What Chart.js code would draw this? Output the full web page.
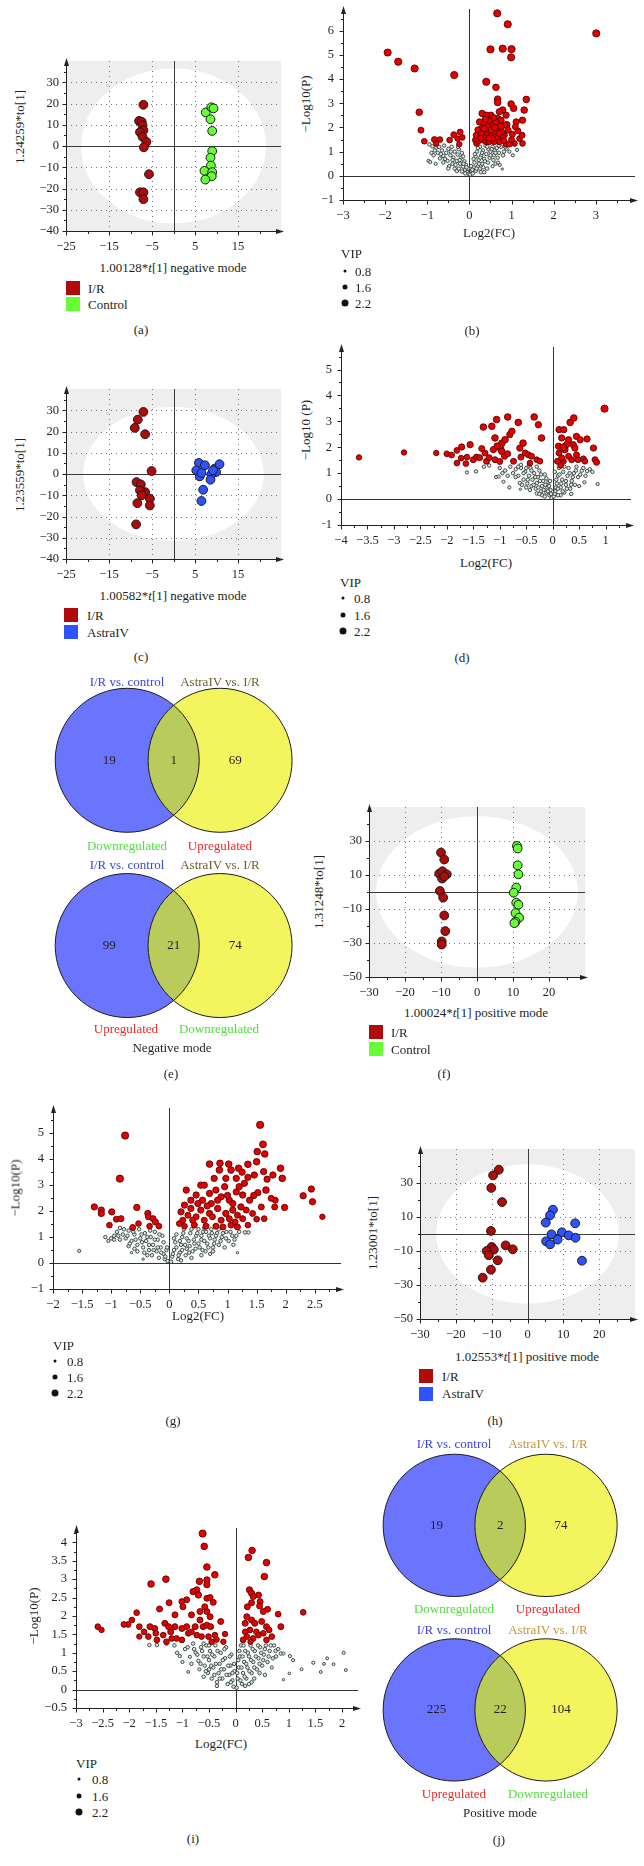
<!DOCTYPE html>
<html>
<head>
<meta charset="utf-8">
<script src="https://cdn.jsdelivr.net/npm/chart.js@4.4.1/dist/chart.umd.min.js"></script>
<style>
  body { margin:0; width:644px; height:1866px; position:relative; background:#fff; overflow:hidden;
         font-family:"Liberation Serif","DejaVu Serif",serif; color:#231f20; }
  canvas { position:absolute; }
  .t, .l, .r { position:absolute; white-space:nowrap; font-size:13px; line-height:1; }
  .t { transform:translate(-50%,-50%); }
  .l { transform:translateY(-50%); }
  .r { transform:translate(-50%,-50%) rotate(-90deg); }
  .sq { position:absolute; width:14px; height:14px; }
  .dot { position:absolute; border-radius:50%; background:#111; transform:translate(-50%,-50%); }
</style>
</head>
<body>
<script>
// ---------- PCA score plots ----------
const aIR = [[-7.0,19.4],[-8.0,11.8],[-7.4,11.4],[-7.2,9.8],[-7.0,7.4],[-7.8,6.5],[-7.2,4.3],[-6.3,1.9],[-6.9,-0.6],[-5.7,-13.3],[-7.8,-21.8],[-7.0,-21.8],[-7.0,-25]];
const aControl = [[7.5,15.8],[8.8,18.2],[9.3,17.7],[8.6,12.6],[9.0,7.1],[9.0,-2.4],[8.6,-5.5],[8.7,-9.2],[7.2,-11.7],[9.0,-12.3],[8.9,-14.2],[7.4,-15.8]];
const cIR = [[-7.0,29.2],[-8.3,25.6],[-9.0,21.7],[-6.6,18.7],[-5.1,1.4],[-8.6,-3.8],[-7.6,-4.9],[-6.6,-8.5],[-7.8,-7.7],[-7.4,-10],[-8.4,-13.7],[-5.5,-11.6],[-5.5,-14.8],[-8.7,-23.7]];
const cAstra = [[5.9,5.2],[5.3,1.7],[6.1,-1.1],[6.5,0.5],[7.3,4.1],[9.6,2.5],[10.7,4.6],[9.9,0.9],[8.8,-0.2],[8.6,-2.7],[6.9,-7.4],[6.5,-12.7],[9.2,1.7]];
const fIR = [[-10.0,23.2],[-9.1,19.1],[-10.5,10.8],[-9.6,12.2],[-8.4,10.4],[-9.7,7.9],[-9.1,9.2],[-10.3,0.6],[-9.4,-3.3],[-9.1,-13.8],[-8.8,-23],[-9.8,-29.1],[-9.8,-30.9]];
const fControl = [[11.1,27.1],[11.3,25.6],[11.3,15.7],[11.5,10.4],[10.9,2.6],[10.2,-0.4],[10.9,-6.3],[11.5,-7.5],[10.7,-12.4],[11.7,-15.1],[10.7,-17.5],[10.4,-18.3]];
const hIR = [[-8.0,37.8],[-9.6,34.5],[-10.1,27.1],[-7.1,18.8],[-10.2,1.8],[-10.0,-7.6],[-9.4,-9.2],[-11.4,-10],[-10.8,-12.5],[-6.1,-6.7],[-4.1,-9.0],[-8.3,-15.5],[-10.2,-21],[-12.5,-25.7]];
const hAstra = [[7.1,14.3],[6.3,11],[5.1,6.7],[13.3,6.3],[9.6,1.0],[11.5,-0.8],[6.7,-0.2],[13.4,-2.2],[8.4,-3.3],[5.2,-4.3],[6.3,-6.1],[15.2,-15.7]];

// Hotelling ellipse radii (x, y)
const aEllipse = [21.5, 36.5], cEllipse = [21, 31.5], fEllipse = [28, 44.6], hEllipse = [25.5, 41];

// tick values
const negTicksX = [-25,-15,-5,5,15], negMinorX = [-20,-10,0,10,20];
const negTicksY = [-40,-30,-20,-10,0,10,20,30], negMinorY = [-35,-25,-15,-5,5,15,25,35];
const negGridX = [-15,-5,5,15], negGridY = [-30,-20,-10,10,20,30];
const posTicksX = [-30,-20,-10,0,10,20], posMinorX = [-25,-15,-5,5,15,25];
const posTicksY = [-50,-30,-10,10,30], posMinorY = [-40,-20,0,20,40];
const posGridX = [-20,-10,10,20], posGridY = [-30,-10,10,30];

// ---------- volcano plots: [log2FC, -log10P, VIP] ----------
const bRed = [[0.66,6.72,2.2],[0.91,6.27,2.2],[3.01,5.89,2.2],[0.5,5.23,2.2],[0.79,5.26,2.2],[1.0,5.24,2.2],[0.99,4.9,2.2],[-1.94,5.1,2.2],[-1.69,4.72,2.2],[-1.3,4.44,2.2],[-0.36,4.17,2.2],[0.4,3.89,2.2],[0.63,3.66,2.0],[1.35,3.16,2.0],[0.67,3.17,2.0],[0.67,3.03,2.0],[0.99,2.97,2.0],[1.05,2.79,2.0],[1.3,2.72,2.0],[0.79,2.72,2.0],[-1.19,2.63,2.0],[-1.15,1.89,1.8],[-1.07,1.43,1.7],[-0.83,1.5,1.8],[-0.7,1.5,1.7],[-0.79,1.34,1.6],[-0.47,1.48,1.7],[-0.37,1.7,1.8],[-0.28,1.54,1.7],[-0.22,1.81,1.8],[-0.17,1.59,1.7],[-0.24,1.31,1.6],
  [1.26,1.34,1.7],[1.07,1.34,1.7],[1.19,1.54,1.7],[1.25,1.68,1.8],[1.26,2.3,1.9],[1.11,2.23,1.9],[1.15,1.86,1.8],[1.09,2.03,1.8],[0.87,2.51,1.9],[0.89,2.12,1.9],[0.92,1.89,1.8],[0.83,1.68,1.8],[0.79,1.59,1.8],[0.87,1.31,1.7],[0.95,1.31,1.7],
  [0.3,2.58,1.9],[0.24,2.23,1.9],[0.28,1.96,1.8],[0.24,1.68,1.8],[0.14,1.48,1.7],[0.17,1.34,1.7],[0.16,1.68,1.8],[0.32,1.48,1.8],[0.4,1.41,1.8],[0.47,1.41,1.8],[0.51,1.68,1.8],[0.43,1.82,1.8],[0.47,2.3,1.9],[0.51,2.51,1.9],[0.55,2.1,1.9],[0.63,1.96,1.9],[0.67,2.37,1.9],[0.71,2.65,1.9],[0.75,2.3,1.9],[0.67,1.61,1.8],[0.71,1.41,1.8],[0.59,1.41,1.8],[0.4,2.51,1.9],[0.36,2.17,1.9],[0.43,2.03,1.9],[0.59,1.82,1.8],[0.77,1.82,1.8],[0.63,2.23,1.9],[0.83,2.1,1.9],[0.4,1.68,1.8],[0.2,1.9,1.8],[0.55,1.55,1.8],[0.35,1.6,1.8],
  [0.22,1.45,1.8],[0.28,1.75,1.8],[0.35,1.95,1.9],[0.46,1.55,1.8],[0.52,1.9,1.9],[0.6,2.0,1.9],[0.7,1.75,1.8],[0.75,2.05,1.9],[0.82,1.45,1.8],[0.58,2.4,1.9],[0.38,2.35,1.9],[0.27,1.55,1.8],[1.0,1.5,1.8],[1.02,1.72,1.8]];
const bGrey = [[-0.95,1.3,1],[-0.88,1.22,1],[-0.8,1.15,1],[-0.72,1.2,1],[-0.65,1.05,1],[-0.6,1.25,1],[-0.55,0.95,1],[-0.5,1.12,1],[-0.45,0.85,1],[-0.42,1.2,1],[-0.38,0.75,1],[-0.35,1.0,1],[-0.3,0.62,1],[-0.28,0.88,1],[-0.25,1.1,1],[-0.22,0.5,1],[-0.2,0.75,1],[-0.18,0.95,1],[-0.15,0.38,1],[-0.12,0.6,1],[-0.1,0.25,1],[-0.08,0.45,1],[-0.05,0.15,1],[-0.03,0.3,1],[-0.02,0.08,1],
  [-0.97,0.62,0.9],[-0.93,0.57,0.9],[-0.8,0.5,0.9],[-0.7,0.72,1],[-0.62,0.55,1],[-0.52,0.62,1],[-0.48,0.4,1],[-0.4,0.5,1],[-0.35,0.3,1],[-0.3,0.2,1],[-0.25,0.3,1],[-0.18,0.18,1],[-0.75,0.95,1],[-0.85,0.85,1],[-0.62,0.82,1],
  [0.02,0.05,1],[0.05,0.2,1],[0.08,0.1,1],[0.1,0.35,1],[0.12,0.55,1],[0.15,0.2,1],[0.15,0.8,1],[0.18,1.0,1],[0.2,0.4,1],[0.22,0.65,1],[0.25,1.2,1],[0.27,0.15,1],[0.28,0.85,1],[0.3,0.5,1],[0.32,1.05,1],[0.35,0.7,1],[0.38,1.25,1],[0.4,0.9,1],[0.42,0.3,1],[0.45,1.1,1],[0.48,0.75,1],[0.5,1.0,1],[0.55,1.2,1],[0.58,0.85,1],[0.6,1.05,1],[0.62,0.5,0.9],[0.65,1.15,1],[0.7,0.95,1],[0.72,0.45,0.9],[0.75,1.2,1],[0.78,0.28,0.6],[0.82,1.0,1],[0.88,1.12,1],[0.95,1.0,0.9],[1.03,0.85,0.9],[1.13,1.07,0.9],[0.35,0.15,1],[0.25,0.3,1],
  [-0.9,0.95,1],[-0.82,1.05,1],[-0.68,0.9,1],[-0.58,0.7,1],[-0.5,0.3,1],[-0.44,1.0,1],[-0.4,0.65,1],[-0.33,0.45,1],[-0.27,1.2,1],[-0.23,0.65,1],[-0.15,0.8,1],[-0.14,0.5,1],[-0.1,0.1,1],[-0.07,0.35,1],[0.04,0.4,1],[0.07,0.25,1],[0.1,0.7,1],[0.13,0.9,1],[0.17,0.3,1],[0.2,1.15,1],[0.23,0.5,1],[0.26,0.75,1],[0.3,0.95,1],[0.33,0.35,1],[0.37,0.6,1],[0.42,1.2,1],[0.44,0.55,1],[0.5,0.85,1],[0.53,1.1,1],[0.57,0.65,1],[0.62,0.95,1],[0.67,0.75,1],[0.7,1.25,1],[0.8,0.85,1],[0.85,1.2,1],[0.55,0.4,0.9],[0.68,0.55,0.9]];
const dRed = [[-3.66,1.61,1.6],[-2.81,1.8,1.6],[-2.2,1.78,1.6],[-2.0,1.75,1.7],[-1.91,1.7,1.7],[-1.81,1.88,1.7],[-1.72,2.01,1.9],[-1.56,2.1,1.9],[-1.81,1.39,1.7],[-1.73,1.58,1.7],[-1.62,1.62,1.7],[-1.64,1.37,1.7],[-1.5,1.52,1.8],[-1.44,1.62,1.8],[-1.34,1.95,1.8],[-1.31,2.78,2.0],[-1.28,1.78,1.8],[-1.25,1.46,1.8],[-1.15,2.81,2.0],[-1.06,3.07,2.0],[-1.09,2.36,2.0],[-1.12,1.91,1.9],[-1.09,1.52,1.8],[-0.96,2.16,2.0],[-0.99,1.97,2.0],[-0.96,1.84,2.0],[-0.91,1.65,1.8],[-0.9,2.29,2.0],[-0.85,3.17,2.0],[-0.81,2.49,1.9],[-0.77,2.62,1.9],[-0.74,1.46,1.8],[-0.65,2.96,2.0],[-0.62,1.97,1.9],[-0.56,2.16,2.0],[-0.52,1.78,1.8],[-0.46,1.71,1.8],[-0.43,1.39,1.7],[-0.4,1.65,1.8],[-0.35,3.17,2.0],[-0.27,2.87,1.9],[-0.3,1.52,1.7],[-0.24,1.46,1.7],[-0.21,2.36,2.0],[-1.38,1.6,1.8],[-1.2,1.6,1.8],[-1.0,1.45,1.8],[-0.85,1.75,1.8],[-0.6,1.62,1.8],[-1.05,2.05,1.9],
  [0.12,2.68,1.9],[0.21,2.68,1.9],[0.33,2.96,2.0],[0.4,3.13,2.0],[0.98,3.49,2.2],[0.17,2.36,1.9],[0.3,2.29,1.9],[0.39,2.1,1.9],[0.45,2.42,1.9],[0.52,2.29,1.9],[0.65,2.32,1.9],[0.77,1.97,1.9],[0.8,1.52,1.8],[0.83,1.42,1.8],[0.11,2.04,1.9],[0.12,1.78,1.8],[0.09,1.46,1.8],[0.2,1.46,1.8],[0.23,1.91,2.0],[0.3,1.65,1.8],[0.36,1.52,1.8],[0.42,1.97,1.9],[0.48,1.52,1.8],[0.58,1.55,1.8],[0.61,1.46,1.7],[0.17,1.59,1.8],[0.26,2.1,1.9],[0.45,1.71,1.8],[0.2,2.0,2.1],[0.15,1.3,1.7]];
const dGrey = [[-1.62,1.03,0.9],[-1.45,1.07,1],[-1.3,1.25,1],[-1.2,1.3,1],[-1.07,0.85,0.9],[-1.02,0.87,0.9],[-0.93,0.67,0.9],[-0.82,0.45,0.9],[-0.61,0.38,0.6],[-1.0,1.2,1],[-0.9,1.1,1],[-0.8,1.25,1],[-0.75,1.0,1],[-0.7,1.15,1],[-0.65,0.9,1],[-0.6,1.2,1],[-0.55,0.75,1],[-0.52,1.05,1],[-0.48,0.6,1],[-0.45,0.9,1],[-0.42,1.2,1],[-0.4,0.5,1],[-0.38,0.75,1],[-0.35,1.0,1],[-0.32,0.4,1],[-0.3,0.62,1],[-0.28,0.85,1],[-0.25,1.1,1],[-0.22,0.3,1],[-0.2,0.5,1],[-0.18,0.7,1],[-0.15,0.95,1],[-0.12,0.25,1],[-0.1,0.45,1],[-0.08,0.65,1],[-0.06,0.15,1],[-0.04,0.35,1],[-0.02,0.05,1],[-0.3,0.22,1],[-0.2,0.15,1],[-0.5,0.45,1],[-0.62,0.62,1],[-0.85,0.9,1],[-0.95,1.0,1],[-0.45,1.3,1],[-0.6,1.32,1],
  [0.02,0.1,1],[0.05,0.3,1],[0.08,0.6,1],[0.1,0.9,1],[0.12,1.2,1],[0.15,0.45,1],[0.18,0.75,1],[0.2,1.05,1],[0.22,0.25,1],[0.25,0.55,1],[0.28,0.9,1],[0.3,1.2,1],[0.33,0.4,1],[0.36,0.7,1],[0.4,1.0,1],[0.42,0.55,1],[0.45,1.25,1],[0.48,0.85,1],[0.5,0.5,0.9],[0.55,1.1,1],[0.6,0.65,0.9],[0.62,0.9,1],[0.65,1.08,1],[0.7,1.15,1],[0.85,0.58,0.9],[0.75,1.05,1],[0.35,0.2,1],[0.15,0.15,1],[0.06,0.45,1],
  [-0.7,0.85,1],[-0.65,1.25,1],[-0.58,0.55,1],[-0.55,1.0,1],[-0.5,1.2,1],[-0.47,0.75,1],[-0.43,0.35,1],[-0.4,1.1,1],[-0.36,0.55,1],[-0.33,0.85,1],[-0.3,1.25,1],[-0.27,0.45,1],[-0.24,0.7,1],[-0.22,0.95,1],[-0.17,0.35,1],[-0.14,0.55,1],[-0.12,0.8,1],[-0.09,0.3,1],[-0.07,0.5,1],[-0.05,0.7,1],[-0.03,0.2,1],[-0.25,0.2,1],[-0.15,0.1,1],[0.04,0.2,1],[0.07,0.75,1],[0.1,0.4,1],[0.13,0.95,1],[0.16,0.6,1],[0.19,0.3,1],[0.22,1.25,1],[0.25,0.7,1],[0.27,0.4,1],[0.32,1.0,1],[0.35,0.55,1],[0.38,0.85,1],[0.44,1.1,1],[0.52,0.95,1],[0.58,1.2,1],[0.04,1.05,1],[0.1,0.15,1]];
const gRed = [[-0.76,4.91,2.2],[-0.85,3.25,2.2],[-1.29,2.16,1.9],[-1.17,2.04,1.9],[-1.17,1.91,1.9],[-0.99,1.97,1.9],[-1.03,1.46,1.7],[-0.91,1.69,1.8],[-0.83,1.71,1.8],[-0.63,1.37,1.8],[-0.56,2.14,1.9],[-0.53,1.52,1.7],[-0.37,1.91,1.9],[-0.36,1.78,1.8],[-0.28,1.71,1.8],[-0.24,1.58,1.8],[-0.18,1.42,1.7],[-0.34,1.42,1.7],
  [1.56,5.32,2.2],[1.61,4.57,2.1],[1.64,4.2,2.0],[1.51,4.29,2.0],[1.5,3.9,2.0],[1.02,3.81,2.0],[0.86,3.58,2.0],[0.69,3.81,2.0],[0.87,3.84,2.0],[1.06,3.58,2.0],[1.19,3.65,2.0],[1.35,3.8,2.0],[1.91,3.65,2.0],[1.94,3.26,2.0],[1.78,3.39,1.9],[1.62,3.52,1.9],[1.46,3.39,1.9],[1.68,3.23,1.9],[1.66,2.81,2.0],[2.44,2.85,1.9],[2.3,2.59,1.9],[2.46,2.36,1.9],[1.98,2.14,1.9],[1.81,2.16,1.8],[1.82,2.42,1.8],[1.75,2.49,1.8],[0.29,2.81,1.9],[0.54,3.0,1.9],[0.6,3.0,1.9],[0.77,3.26,1.9],[0.97,3.26,1.9],[1.15,3.26,1.9],[1.29,3.07,1.9],[1.52,2.71,1.9],[1.58,2.16,1.8],[1.63,1.71,1.7],[1.5,1.69,1.7],[1.35,1.46,1.7],[1.17,1.39,1.8],[1.06,1.46,1.8],[0.92,1.39,1.8],[0.8,1.42,1.8],[0.63,1.42,1.8],[0.43,1.46,1.8],[0.26,1.42,1.7],[0.17,1.52,1.7],[0.2,1.97,1.9],[0.26,2.23,1.9],[0.37,2.42,1.9],[0.46,2.62,1.9],[0.57,2.42,1.9],[0.69,2.68,1.9],[0.8,2.81,1.9],[0.89,2.55,1.9],[1.03,2.42,1.9],[1.15,2.74,1.9],[1.26,2.62,1.9],[1.38,2.42,1.9],[1.23,2.16,1.9],[1.09,2.04,1.9],[0.97,1.91,1.9],[0.83,2.1,1.9],[0.69,1.91,1.9],[0.54,2.04,1.9],[0.46,1.78,1.8],[0.32,1.84,1.8],[0.6,1.65,1.8],[0.74,1.78,1.8],[0.89,1.65,1.8],[1.03,1.71,1.8],[1.17,1.84,1.8],[1.32,2.04,1.8],[1.43,1.91,1.8],[1.26,1.71,1.8],[1.09,2.29,1.9],[0.95,2.94,1.9],[1.2,2.94,1.9],[0.49,2.29,1.9],[0.37,2.1,1.9],[0.72,2.29,1.9],[0.83,2.42,1.9],[1.13,1.58,1.8],[0.4,1.65,1.8],[0.23,1.65,1.8],[2.63,1.78,1.6],[1.45,2.6,1.9],[1.0,2.6,1.9],[0.65,2.2,1.9],[1.35,3.3,1.9],[1.25,3.5,1.9]];
const gGrey = [[-1.55,0.47,0.9],[-1.05,0.85,0.9],[-1.0,0.95,1],[-0.95,1.05,1],[-0.9,1.2,1],[-0.85,1.35,1],[-0.8,1.1,1],[-0.75,0.95,1],[-0.7,1.25,1],[-0.65,0.4,0.6],[-0.65,0.85,1],[-0.6,1.1,1],[-0.55,0.7,1],[-0.52,1.3,1],[-0.5,0.95,1],[-0.45,0.15,0.6],[-0.45,0.6,1],[-0.42,1.15,1],[-0.4,0.85,1],[-0.35,0.5,1],[-0.32,1.0,1],[-0.3,0.3,1],[-0.28,0.7,1],[-0.25,1.2,1],[-0.22,0.45,1],[-0.2,0.9,1],[-0.18,0.2,1],[-0.15,0.6,1],[-0.12,1.05,1],[-0.1,0.35,1],[-0.08,0.15,1],[-0.05,0.5,1],[-0.03,0.08,1],[-0.7,0.65,1],[-0.85,0.9,1],[-0.6,0.55,1],[-0.38,0.3,1],[-1.1,1.0,1],
  [0.03,0.05,1],[0.05,0.25,1],[0.08,0.5,1],[0.1,0.8,1],[0.12,1.1,1],[0.15,0.15,1],[0.18,0.4,1],[0.2,0.7,1],[0.22,1.0,1],[0.25,1.3,1],[0.28,0.3,1],[0.3,0.55,1],[0.33,0.85,1],[0.36,1.15,1],[0.4,0.45,1],[0.43,0.75,1],[0.46,1.05,1],[0.5,1.3,1],[0.52,0.6,1],[0.55,0.9,1],[0.58,1.2,1],[0.62,0.45,1],[0.65,0.75,1],[0.68,1.05,1],[0.72,1.3,1],[0.75,0.6,1],[0.78,0.9,1],[0.82,1.15,1],[0.85,0.7,1],[0.9,1.0,1],[0.95,0.6,1],[0.98,1.2,1],[1.02,0.85,1],[1.08,1.05,1],[1.12,0.9,1],[1.17,0.4,0.6],[1.2,1.2,1],[1.3,1.18,1],[1.36,1.18,1],[0.7,0.35,0.9],[0.38,0.2,1],[0.2,0.1,1],[0.6,1.35,1],
  [-0.95,0.9,1],[-0.88,1.05,1],[-0.78,1.3,1],[-0.72,1.05,1],[-0.68,0.75,1],[-0.62,1.2,1],[-0.58,0.9,1],[-0.55,0.45,1],[-0.48,1.1,1],[-0.47,0.8,1],[-0.43,0.4,1],[-0.38,1.0,1],[-0.35,0.7,1],[-0.33,1.25,1],[-0.27,0.5,1],[-0.25,0.9,1],[-0.2,0.6,1],[-0.17,1.1,1],[-0.14,0.4,1],[-0.1,0.8,1],[-0.07,0.25,1],[-0.04,0.6,1],[0.06,0.35,1],[0.08,0.95,1],[0.12,0.6,1],[0.16,0.3,1],[0.18,0.85,1],[0.22,0.5,1],[0.24,1.15,1],[0.27,0.7,1],[0.3,0.95,1],[0.34,0.4,1],[0.35,0.65,1],[0.38,1.3,1],[0.42,0.9,1],[0.45,0.55,1],[0.48,1.15,1],[0.5,0.75,1],[0.55,1.05,1],[0.57,0.5,1],[0.6,0.85,1],[0.63,1.2,1],[0.67,0.6,1],[0.7,0.95,1],[0.73,1.15,1],[0.77,0.75,1],[0.8,1.05,1],[0.85,1.3,1],[0.88,0.85,1],[0.92,1.15,1],[0.97,0.95,1],[1.05,1.2,1],[1.1,0.7,1],[1.15,1.05,1],[0.75,0.45,1],[0.55,0.3,1]];
const iRed = [[-0.62,4.24,2.2],[-0.59,3.89,2.0],[-0.54,3.33,2.0],[-0.39,3.12,2.0],[-1.59,2.87,2.0],[-1.31,3.0,2.0],[-0.68,2.94,2.0],[-0.54,2.98,1.9],[-0.54,2.85,1.9],[-0.73,2.71,1.9],[-0.8,2.66,1.9],[-0.7,2.57,1.9],[-0.92,2.44,1.8],[-1.01,2.39,1.8],[-1.25,2.36,1.8],[-1.43,2.19,1.8],[-0.99,2.25,1.8],[-0.54,2.48,1.8],[-0.48,2.5,1.8],[-0.42,2.37,1.8],[-1.14,2.03,1.8],[-0.83,2.03,1.8],[-0.67,2.12,1.8],[-0.58,2.25,1.8],[-0.54,2.12,1.8],[-0.48,1.98,1.8],[-0.28,1.85,1.8],[-1.86,2.09,1.7],[-1.95,1.89,1.7],[-2.02,1.77,1.7],[-2.1,1.77,1.7],[-2.59,1.71,1.7],[-2.52,1.62,1.6],[-1.81,1.71,1.7],[-1.72,1.57,1.7],[-1.64,1.44,1.7],[-1.81,1.44,1.6],[-1.61,1.71,1.8],[-1.52,1.66,1.8],[-1.5,1.53,1.7],[-1.36,1.48,1.7],[-1.33,1.8,1.8],[-1.26,1.71,1.8],[-1.22,1.57,1.8],[-1.14,1.71,1.8],[-1.11,1.39,1.7],[-1.01,1.66,1.8],[-0.92,1.71,1.8],[-0.89,1.53,1.7],[-0.83,1.57,1.7],[-0.76,1.71,1.8],[-0.67,1.89,1.8],[-0.61,1.71,1.8],[-0.54,1.75,1.8],[-0.47,1.71,1.8],[-0.73,1.48,1.7],[-0.64,1.44,1.7],[-0.51,1.44,1.7],[-0.39,1.48,1.7],[-0.2,1.51,1.6],[-0.23,1.3,1.6],[-0.36,1.36,1.7],[-0.45,1.3,1.7],[-1.01,1.35,1.7],[-1.2,1.39,1.7],[-1.48,1.35,1.7],[-1.3,1.3,1.7],
  [0.31,3.78,2.0],[0.24,3.59,2.0],[0.58,3.45,2.0],[0.54,3.07,2.0],[0.26,2.71,1.9],[0.3,2.62,1.9],[0.43,2.57,1.8],[0.33,2.53,1.8],[0.22,2.25,1.8],[0.3,2.36,1.8],[0.46,2.39,1.8],[0.45,2.27,1.8],[0.6,2.18,1.8],[0.52,2.12,1.8],[0.8,2.05,1.7],[1.27,2.1,1.7],[0.85,1.71,1.8],[0.21,1.98,1.8],[0.18,1.8,1.8],[0.3,1.89,1.8],[0.36,1.8,1.8],[0.49,1.85,1.8],[0.58,1.71,1.8],[0.63,1.62,1.7],[0.68,1.44,1.7],[0.52,1.53,1.7],[0.39,1.57,1.7],[0.27,1.62,1.7],[0.18,1.57,1.7],[0.21,1.44,1.7],[0.33,1.39,1.7],[0.43,1.48,1.7],[0.58,1.35,1.7],[0.28,1.3,1.6],[0.14,1.35,1.7]];
const iGrey = [[-1.62,1.21,1],[-1.48,1.21,1],[-1.3,1.25,1],[-1.15,1.2,1],[-1.05,0.91,0.9],[-1.0,0.75,0.9],[-0.89,0.48,0.8],[-0.86,0.89,0.9],[-0.95,1.1,1],[-0.8,1.25,1],[-0.75,1.0,1],[-0.7,0.78,1],[-0.68,0.55,0.9],[-0.65,1.15,1],[-0.6,0.9,1],[-0.58,0.65,1],[-0.55,1.2,1],[-0.52,0.45,1],[-0.5,0.8,1],[-0.48,1.05,1],[-0.45,0.3,1],[-0.42,0.6,1],[-0.4,0.9,1],[-0.38,1.2,1],[-0.35,0.2,1],[-0.32,0.45,1],[-0.3,0.7,1],[-0.28,1.0,1],[-0.25,0.3,1],[-0.22,0.55,1],[-0.2,0.85,1],[-0.18,1.15,1],[-0.15,0.15,1],[-0.12,0.4,1],[-0.1,0.65,1],[-0.08,0.95,1],[-0.06,0.25,1],[-0.04,0.08,1],[-0.02,0.5,1],[-0.6,0.35,1],[-0.5,0.55,1],[-0.35,0.1,1],
  [0.02,0.05,1],[0.04,0.3,1],[0.06,0.6,1],[0.08,0.9,1],[0.1,1.2,1],[0.12,0.15,1],[0.14,0.45,1],[0.16,0.75,1],[0.18,1.05,1],[0.2,0.3,1],[0.22,0.6,1],[0.25,0.9,1],[0.28,1.2,1],[0.3,0.45,1],[0.33,0.75,1],[0.36,1.05,1],[0.4,0.55,1],[0.43,0.85,1],[0.46,1.15,1],[0.5,0.65,1],[0.53,0.95,1],[0.57,1.2,1],[0.6,0.75,1],[0.64,1.05,1],[0.68,0.6,0.9],[0.72,1.2,1],[0.76,0.9,1],[0.8,1.1,1],[0.85,0.98,1],[0.9,0.98,0.9],[0.9,0.27,0.6],[1.01,0.44,0.7],[1.02,0.91,0.9],[1.08,0.8,0.9],[1.24,0.55,0.8],[1.46,0.73,0.9],[1.6,0.48,0.8],[1.66,0.7,0.8],[1.72,0.85,0.8],[1.84,0.69,0.8],[2.03,1.0,0.9],[2.07,0.53,0.8],[0.3,0.2,1],[0.55,0.4,1],[0.18,0.1,1],
  [-1.1,1.0,1],[-0.9,1.15,1],[-0.83,0.7,1],[-0.78,1.1,1],[-0.72,0.95,1],[-0.66,0.7,1],[-0.63,1.05,1],[-0.6,1.25,1],[-0.56,0.5,1],[-0.53,0.9,1],[-0.5,1.2,1],[-0.46,0.65,1],[-0.44,0.95,1],[-0.4,0.4,1],[-0.37,0.7,1],[-0.34,1.05,1],[-0.3,0.3,1],[-0.27,0.55,1],[-0.24,0.8,1],[-0.21,1.1,1],[-0.17,0.4,1],[-0.14,0.65,1],[-0.11,0.9,1],[-0.09,0.2,1],[-0.06,0.45,1],[-0.03,0.7,1],[0.03,0.45,1],[0.05,0.8,1],[0.07,1.05,1],[0.09,0.25,1],[0.11,0.6,1],[0.13,0.9,1],[0.15,1.2,1],[0.17,0.35,1],[0.2,0.7,1],[0.23,1.0,1],[0.26,0.5,1],[0.29,0.8,1],[0.32,1.1,1],[0.35,0.6,1],[0.38,0.9,1],[0.42,1.2,1],[0.45,0.7,1],[0.48,1.0,1],[0.52,0.8,1],[0.55,1.1,1],[0.62,0.9,1],[0.66,1.2,1],[0.7,0.85,1],[0.75,1.05,1],[0.35,0.3,1],[0.25,0.15,1],[0.45,0.45,1]];

const bTicksX = [-3,-2,-1,0,1,2,3], bMinorX = [-2.5,-1.5,-0.5,0.5,1.5,2.5,3.5];
const bTicksY = [-1,0,1,2,3,4,5,6], bMinorY = [-0.5,0.5,1.5,2.5,3.5,4.5,5.5,6.5];
const dTicksX = [-4,-3.5,-3,-2.5,-2,-1.5,-1,-0.5,0,0.5,1], dMinorX = [-3.75,-3.25,-2.75,-2.25,-1.75,-1.25,-0.75,-0.25,0.25,0.75,1.25];
const dTicksY = [-1,0,1,2,3,4,5], dMinorY = [-0.5,0.5,1.5,2.5,3.5,4.5,5.5];
const gTicksX = [-2,-1.5,-1,-0.5,0,0.5,1,1.5,2,2.5], gMinorX = [-1.75,-1.25,-0.75,-0.25,0.25,0.75,1.25,1.75,2.25,2.75];
const gTicksY = [-1,0,1,2,3,4,5], gMinorY = [-0.5,0.5,1.5,2.5,3.5,4.5,5.5];
const iTicksX = [-3,-2.5,-2,-1.5,-1,-0.5,0,0.5,1,1.5,2], iMinorX = [-2.75,-2.25,-1.75,-1.25,-0.75,-0.25,0.25,0.75,1.25,1.75,2.25];
const iTicksY = [-0.5,0,0.5,1,1.5,2,2.5,3,3.5,4], iMinorY = [-0.25,0.25,0.75,1.25,1.75,2.25,2.75,3.25,3.75,4.25];

// ---------- Venn diagrams ----------
const vennCentres = [0, 1.29];       // in circle radii
const vennTextX = [-0.25, 0.645, 1.5];
const eRows = [0, -2.57], jRows = [0, -2.59];
const eCounts = [[19, 1, 69], [99, 21, 74]];
const jCounts = [[19, 2, 74], [225, 22, 104]];

// ---------- drawing ----------
Chart.defaults.font.family = '"Liberation Serif", "DejaVu Serif", serif';
Chart.defaults.font.size = 12.5;
Chart.defaults.color = '#231f20';
const minus = v => (v < 0 ? '\u2212' + String(-v) : String(v));

const deco = {
  id: 'deco',
  beforeDatasetsDraw(chart, args, o) {
    if (!o.ticksX) return;
    const { ctx, chartArea: a } = chart;
    const px = v => chart.scales.x.getPixelForValue(v), py = v => chart.scales.y.getPixelForValue(v);
    const seg = (x1, y1, x2, y2) => { ctx.beginPath(); ctx.moveTo(x1, y1); ctx.lineTo(x2, y2); ctx.stroke(); };
    ctx.save();
    ctx.lineWidth = 1;
    if (o.ellipse) {
      ctx.fillStyle = '#eeeeee';
      ctx.fillRect(a.left, a.top, a.right - a.left, a.bottom - a.top);
      ctx.fillStyle = '#fff';
      ctx.beginPath();
      ctx.ellipse(px(0), py(0), px(o.ellipse[0]) - px(0), py(0) - py(o.ellipse[1]), 0, 0, Math.PI * 2);
      ctx.fill();
      ctx.strokeStyle = '#777';
      ctx.setLineDash([1, 4]);
      o.gridX.forEach(v => { const p = Math.round(px(v)) + 0.5; seg(p, a.top, p, a.bottom); });
      o.gridY.forEach(v => { const p = Math.round(py(v)) + 0.5; seg(a.left, p, a.right, p); });
      ctx.setLineDash([]);
    }
    ctx.strokeStyle = o.ellipse ? '#3a3a3a' : '#333';
    const x0 = Math.round(px(0)) + 0.5, y0 = Math.round(py(0)) + 0.5;
    seg(x0, a.top, x0, a.bottom);
    seg(a.left, y0, a.right, y0);
    ctx.strokeStyle = ctx.fillStyle = '#222';
    const L = Math.round(a.left) + 0.5, B = Math.round(a.bottom) + 0.5;
    seg(L, B, L, a.top);
    seg(L, B, a.right, B);
    ctx.beginPath(); ctx.moveTo(L, a.top - 3); ctx.lineTo(L - 2.5, a.top + 5); ctx.lineTo(L + 2.5, a.top + 5); ctx.fill();
    ctx.beginPath(); ctx.moveTo(a.right + 3, B); ctx.lineTo(a.right - 5, B - 2.5); ctx.lineTo(a.right - 5, B + 2.5); ctx.fill();
    o.ticksX.forEach(v => { const p = Math.round(px(v)) + 0.5; seg(p, B, p, B + 4); });
    o.minorX.forEach(v => { if (px(v) < a.right - 4) { const p = Math.round(px(v)) + 0.5; seg(p, B, p, B + 2.5); } });
    o.ticksY.forEach(v => { const p = Math.round(py(v)) + 0.5; seg(L, p, L - 4, p); });
    o.minorY.forEach(v => { if (py(v) > a.top + 4) { const p = Math.round(py(v)) + 0.5; seg(L, p, L - 2.5, p); } });
    ctx.restore();
  }
};

const venn = {
  id: 'venn',
  beforeDatasetsDraw(chart, args, o) {
    if (!o.rows) return;
    const { ctx } = chart;
    const sx = chart.scales.x, sy = chart.scales.y;
    const r = sx.getPixelForValue(1) - sx.getPixelForValue(0);
    const c1 = sx.getPixelForValue(vennCentres[0]), c2 = sx.getPixelForValue(vennCentres[1]);
    const circ = (cx, cy) => { ctx.beginPath(); ctx.arc(cx, cy, r, 0, Math.PI * 2); };
    o.rows.forEach((row, i) => {
      const cy = sy.getPixelForValue(row);
      ctx.save();
      ctx.fillStyle = '#6b74fd'; circ(c1, cy); ctx.fill();
      ctx.fillStyle = '#f3f55f'; circ(c2, cy); ctx.fill();
      circ(c1, cy); ctx.clip();
      ctx.fillStyle = '#b8cb5b'; circ(c2, cy); ctx.fill();
      ctx.restore();
      ctx.save();
      ctx.strokeStyle = '#1c1c1c'; ctx.lineWidth = 1;
      circ(c1, cy); ctx.stroke();
      circ(c2, cy); ctx.stroke();
      ctx.fillStyle = '#231f20';
      ctx.font = '13px "Liberation Serif", serif';
      ctx.textAlign = 'center'; ctx.textBaseline = 'middle';
      o.counts[i].forEach((n, k) => ctx.fillText(String(n), sx.getPixelForValue(vennTextX[k]), cy));
      ctx.restore();
    });
  }
};

function place(box, m) {
  const cv = document.createElement('canvas');
  cv.width = box[2] - box[0] + m[0] + m[2];
  cv.height = box[3] - box[1] + m[1] + m[3];
  cv.style.left = (box[0] - m[0]) + 'px';
  cv.style.top = (box[1] - m[1]) + 'px';
  document.body.appendChild(cv);
  return cv;
}

function axis(range, ticks, fit, pad) {
  return {
    type: 'linear', min: range[0], max: range[1],
    grid: { display: false, drawTicks: false }, border: { display: false },
    ticks: { padding: pad, autoSkip: false, maxRotation: 0, minRotation: 0, callback: v => minus(v) },
    afterBuildTicks: s => { s.ticks = ticks.map(v => ({ value: v })); },
    afterFit: fit
  };
}

function plot(box, m, xr, yr, tx, ty, padY, decoOpts, datasets) {
  const cv = place(box, m);
  new Chart(cv, {
    type: 'scatter',
    data: { datasets },
    options: {
      responsive: false, animation: false, devicePixelRatio: 1, events: [],
      layout: { padding: { left: 0, top: m[1], right: m[2], bottom: 0 } },
      scales: {
        x: axis(xr, tx, s => { s.height = m[3]; s.paddingLeft = s.paddingRight = 0; }, 8),
        y: axis(yr, ty, s => { s.width = m[0]; s.paddingTop = s.paddingBottom = 0; }, padY)
      },
      plugins: { legend: { display: false }, tooltip: { enabled: false }, deco: decoOpts }
    },
    plugins: [deco]
  });
}

const xy = arr => arr.map(p => ({ x: p[0], y: p[1], v: p[2] }));
const group = (arr, fill) => ({ data: xy(arr), pointRadius: 4.4, backgroundColor: fill, borderColor: '#1a1a1a', borderWidth: 1 });
const red = arr => ({ data: xy(arr), pointRadius: c => 0.3 + c.raw.v * 1.5, backgroundColor: '#e60000', borderColor: '#5e0000', borderWidth: 0.9 });
const grey = arr => ({ data: xy(arr), pointRadius: c => 0.3 + c.raw.v * 1.45, backgroundColor: '#e2e8e5', borderColor: '#2f3d36', borderWidth: 0.9 });
const IRC = '#b00a0a', CTL = '#66ff33', AST = '#2f52ff';

const negDeco = e => ({ ellipse: e, gridX: negGridX, gridY: negGridY, ticksX: negTicksX, minorX: negMinorX, ticksY: negTicksY, minorY: negMinorY });
const posDeco = e => ({ ellipse: e, gridX: posGridX, gridY: posGridY, ticksX: posTicksX, minorX: posMinorX, ticksY: posTicksY, minorY: posMinorY });

// (a) (c) (f) (h) PCA
plot([66, 61, 281, 231], [36, 6, 8, 26], [-25, 25], [-40, 40], negTicksX, negTicksY, 7, negDeco(aEllipse), [group(aIR, IRC), group(aControl, CTL)]);
plot([66, 389, 281, 559], [36, 6, 8, 26], [-25, 25], [-40, 40], negTicksX, negTicksY, 7, negDeco(cEllipse), [group(cIR, IRC), group(cAstra, AST)]);
plot([369, 807, 585, 977], [36, 6, 8, 26], [-30, 30], [-50, 50], posTicksX, posTicksY, 7, posDeco(fEllipse), [group(fIR, IRC), group(fControl, CTL)]);
plot([420, 1149, 635, 1319], [36, 6, 8, 26], [-30, 30], [-50, 50], posTicksX, posTicksY, 7, posDeco(hEllipse), [group(hIR, IRC), group(hAstra, AST)]);

// (b) (d) (g) (i) volcano
plot([343, 9, 635, 200], [21, 8, 8, 26], [-3, 3.93], [-1, 6.9], bTicksX, bTicksY, 9,
  { ticksX: bTicksX, minorX: bMinorX, ticksY: bTicksY, minorY: bMinorY }, [red(bRed), grey(bGrey)]);
plot([341, 347, 631, 525], [19, 8, 8, 26], [-4, 1.48], [-1, 5.87], dTicksX, dTicksY, 9,
  { ticksX: dTicksX, minorX: dMinorX, ticksY: dTicksY, minorY: dMinorY }, [red(dRed), grey(dGrey)]);
plot([53, 1108, 341, 1289], [40, 8, 8, 26], [-2, 2.95], [-1, 5.97], gTicksX, gTicksY, 9,
  { ticksX: gTicksX, minorX: gMinorX, ticksY: gTicksY, minorY: gMinorY }, [red(gRed), grey(gGrey)]);
plot([76, 1528, 358, 1708], [40, 8, 8, 26], [-3, 2.3], [-0.5, 4.39], iTicksX, iTicksY, 9,
  { ticksX: iTicksX, minorX: iMinorX, ticksY: iTicksY, minorY: iMinorY }, [red(iRed), grey(iGrey)]);

// (e) (j) Venn
function vennChart(box, rows, counts) {
  const cv = place(box, [0, 0, 0, 0]);
  new Chart(cv, {
    type: 'scatter',
    data: { datasets: [{ data: [] }] },
    options: {
      responsive: false, animation: false, devicePixelRatio: 1, events: [],
      layout: { padding: 0 },
      scales: { x: { display: false, min: -1.1, max: 2.4 }, y: { display: false, min: -3.7, max: 1.1 } },
      plugins: { legend: { display: false }, tooltip: { enabled: false }, venn: { rows, counts } }
    },
    plugins: [venn]
  });
}
vennChart([48, 681, 300, 1027], eRows, eCounts);
vennChart([376, 1447, 625, 1789], jRows, jCounts);

// ---------- text ----------
const BLUE = '#3b45dc', GREEN = '#4fe03a', REDT = '#ec2a2a';
const texts = [
  ['r', 18.5, 127, '1.24259*to[1]'], ['t', 173, 267, '1.00128*<i>t</i>[1] negative mode'],
  ['l', 88, 288, 'I/R'], ['l', 88, 304, 'Control'], ['t', 141, 329, '(a)'],
  ['r', 305, 104, '\u2212Log10(P)'], ['t', 489, 232, 'Log2(FC)'], ['l', 341, 253, 'VIP'],
  ['l', 355, 271, '0.8'], ['l', 355, 287, '1.6'], ['l', 355, 303, '2.2'], ['t', 472, 330, '(b)'],
  ['r', 18.5, 475, '1.23559*to[1]'], ['t', 173, 595, '1.00582*<i>t</i>[1] negative mode'],
  ['l', 87, 615, 'I/R'], ['l', 87, 632, 'AstraIV'], ['t', 141, 656, '(c)'],
  ['r', 305, 430, '\u2212Log10 (P)'], ['t', 486, 562, 'Log2(FC)'], ['l', 340, 582, 'VIP'],
  ['l', 354, 598, '0.8'], ['l', 354, 615, '1.6'], ['l', 354, 631, '2.2'], ['t', 462, 657, '(d)'],
  ['t', 127, 681, 'I/R vs. control', BLUE], ['t', 220, 681, 'AstraIV vs. I/R', '#6e5c2c'],
  ['t', 127, 845, 'Downregulated', GREEN], ['t', 220, 845, 'Upregulated', REDT],
  ['t', 127, 864, 'I/R vs. control', BLUE], ['t', 220, 864, 'AstraIV vs. I/R', '#6e5c2c'],
  ['t', 126, 1028, 'Upregulated', REDT], ['t', 219, 1028, 'Downregulated', GREEN],
  ['t', 172, 1047, 'Negative mode'], ['t', 171, 1073, '(e)'],
  ['r', 318, 892, '1.31248*to[1]'], ['t', 476, 1012, '1.00024*<i>t</i>[1] positive mode'],
  ['l', 391, 1032, 'I/R'], ['l', 391, 1049, 'Control'], ['t', 444, 1073, '(f)'],
  ['r', 15, 1188, '\u2212Log10(P)'], ['t', 198, 1315, 'Log2(FC)'], ['l', 53, 1345, 'VIP'],
  ['l', 67, 1361, '0.8'], ['l', 67, 1377, '1.6'], ['l', 67, 1393, '2.2'], ['t', 173, 1420, '(g)'],
  ['r', 372, 1233, '1.23001*to[1]'], ['t', 527, 1356, '1.02553*<i>t</i>[1] positive mode'],
  ['l', 442, 1376, 'I/R'], ['l', 442, 1393, 'AstraIV'], ['t', 495, 1420, '(h)'],
  ['r', 33, 1616, '\u2212Log10(P)'], ['t', 221, 1743, 'Log2(FC)'], ['l', 76, 1763, 'VIP'],
  ['l', 92, 1779, '0.8'], ['l', 92, 1796, '1.6'], ['l', 92, 1812, '2.2'], ['t', 193, 1838, '(i)'],
  ['t', 454, 1443, 'I/R vs. control', BLUE], ['t', 548, 1443, 'AstraIV vs. I/R', '#c7953a'],
  ['t', 454, 1608, 'Downregulated', GREEN], ['t', 548, 1608, 'Upregulated', REDT],
  ['t', 454, 1629, 'I/R vs. control', BLUE], ['t', 548, 1629, 'AstraIV vs. I/R', '#c7953a'],
  ['t', 454, 1793, 'Upregulated', REDT], ['t', 548, 1793, 'Downregulated', GREEN],
  ['t', 500, 1812, 'Positive mode'], ['t', 499, 1839, '(j)']
];
texts.forEach(([c, x, y, html, col]) => {
  const d = document.createElement('div');
  d.className = c; d.style.left = x + 'px'; d.style.top = y + 'px';
  if (col) d.style.color = col;
  d.innerHTML = html;
  document.body.appendChild(d);
});
const squares = [[66, 281, IRC], [66, 297, CTL], [64, 608, IRC], [64, 625, AST], [369, 1025, IRC], [369, 1042, CTL], [419, 1369, IRC], [419, 1387, AST]];
squares.forEach(([x, y, col]) => {
  const d = document.createElement('div');
  d.className = 'sq'; d.style.left = x + 'px'; d.style.top = y + 'px'; d.style.background = col;
  document.body.appendChild(d);
});
const vipDots = [[345, 271, 3], [345, 287, 5], [345, 303, 7], [343, 598, 3], [343, 615, 5], [343, 631, 7],
  [55, 1361, 3], [55, 1377, 5], [55, 1393, 7], [79, 1779, 3], [79, 1796, 5], [79, 1812, 7]];
vipDots.forEach(([x, y, s]) => {
  const d = document.createElement('div');
  d.className = 'dot'; d.style.left = x + 'px'; d.style.top = y + 'px'; d.style.width = s + 'px'; d.style.height = s + 'px';
  document.body.appendChild(d);
});
</script>
</body>
</html>
